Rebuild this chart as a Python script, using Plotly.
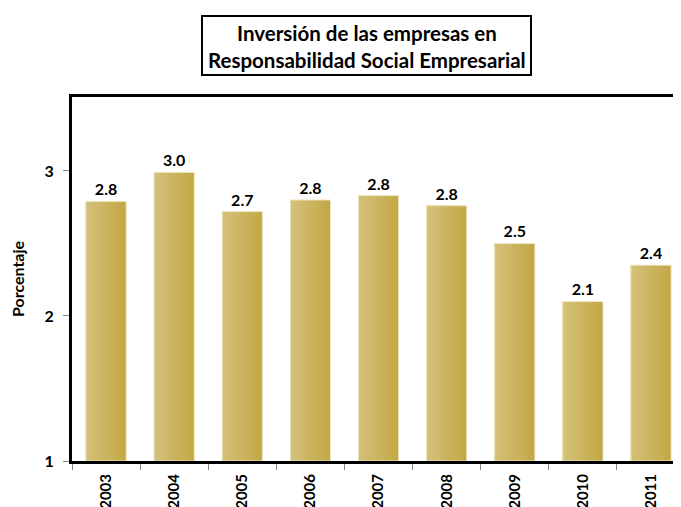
import plotly.graph_objects as go

years = ["2003", "2004", "2005", "2006", "2007", "2008", "2009", "2010", "2011"]
values = [2.79, 2.99, 2.72, 2.80, 2.83, 2.76, 2.50, 2.10, 2.35]
labels = ["2.8", "3.0", "2.7", "2.8", "2.8", "2.8", "2.5", "2.1", "2.4"]
y_ticks = [1, 2, 3]

title_line1 = "Inversión de las empresas en"
title_line2 = "Responsabilidad Social Empresarial"

FONT = "Lato"
OFF = 8  # page body offset
BAR_W = 0.59
N_STRIPS = 12
C_LEFT = (0xD3, 0xC0, 0x78)
C_RIGHT = (0xC4, 0xA8, 0x48)

heights = [v - 1 for v in values]

fig = go.Figure()
# gradient fill: left-anchored layers, widest (darkest) first, narrower lighter on top
for i in range(N_STRIPS, 0, -1):
    t = (i - 1) / (N_STRIPS - 1)
    c = tuple(round(a + (b - a) * t) for a, b in zip(C_LEFT, C_RIGHT))
    fig.add_trace(go.Bar(
        x=years, y=heights, base=1,
        width=BAR_W * i / N_STRIPS,
        offset=-BAR_W / 2,
        marker=dict(color="rgb(%d,%d,%d)" % c, line=dict(width=0)),
        hoverinfo="skip",
    ))
# outline + value labels
fig.add_trace(go.Bar(
    x=years, y=heights, base=1,
    width=BAR_W, offset=-BAR_W / 2,
    marker=dict(color="rgba(0,0,0,0)", line=dict(color="#EFE6C4", width=1)),
    text=labels,
    textposition="outside",
    textfont=dict(family=FONT, size=16, color="black", weight="bold"),
    cliponaxis=False,
    hoverinfo="skip",
))

fig.update_layout(
    width=681 - OFF, height=507 - OFF,
    margin=dict(l=72 - OFF, r=0, t=97 - OFF, b=46, pad=0),
    plot_bgcolor="white", paper_bgcolor="white",
    showlegend=False,
    barmode="overlay",
    font=dict(family=FONT, color="black"),
)

fig.update_xaxes(
    type="category",
    range=[-0.5, 8.44],
    showline=True, linecolor="black", linewidth=3, mirror=True,
    ticks="outside", tickson="boundaries", ticklen=6, tickcolor="#888888", tickwidth=1,
    tickangle=-90,
    ticklabelstandoff=4,
    tickfont=dict(family=FONT, size=15, color="black", weight="bold"),
    showgrid=False,
    automargin=False,
)

fig.update_yaxes(
    range=[1, 3.51],
    tickvals=y_ticks,
    showline=True, linecolor="black", linewidth=3, mirror=True,
    ticks="outside", ticklen=6, tickcolor="#888888", tickwidth=1,
    ticklabelstandoff=6,
    tickfont=dict(family=FONT, size=16, color="black", weight="bold"),
    showgrid=False, zeroline=False,
    title=dict(text="Porcentaje", font=dict(family=FONT, size=16, color="black", weight="bold"), standoff=19),
    automargin=False,
)

# Title box
fig.add_shape(type="rect", xref="paper", yref="paper",
              x0=(202 - 72) / 609, x1=(531 - 72) / 609,
              y0=(461 - 75) / 364, y1=(461 - 16) / 364,
              line=dict(color="black", width=2), fillcolor="white", layer="above")
fig.add_annotation(xref="paper", yref="paper", x=(366.5 - 72) / 609, y=(461 - 33) / 364,
                   text=title_line1, showarrow=False, xanchor="center", yanchor="middle",
                   font=dict(family=FONT, size=20.5, color="black", weight="bold"))
fig.add_annotation(xref="paper", yref="paper", x=(366.5 - 72) / 609, y=(461 - 60) / 364,
                   text=title_line2, showarrow=False, xanchor="center", yanchor="middle",
                   font=dict(family=FONT, size=20.5, color="black", weight="bold"))

fig.write_html("out.html")
